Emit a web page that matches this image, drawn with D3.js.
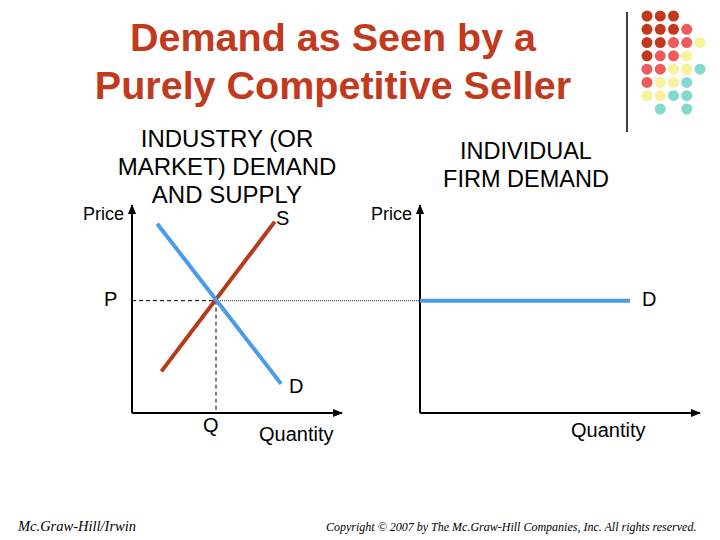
<!DOCTYPE html>
<html><head><meta charset="utf-8">
<script src="https://cdn.jsdelivr.net/npm/d3@7"></script>
<style>body{margin:0;background:#fff}svg{display:block;font-family:"Liberation Sans",Arial,sans-serif}</style>
</head><body><svg id="c" width="720" height="540"></svg>
<script>
const demandPts=[[12,91],[71,14]];
const supplyPts=[[14,20],[68,92]];
const equilibrium={q:40,p:54};
const firmDemand=[[0,54],[75,54]];
const dotRows=[["r","r","r"],["r","r","r","p"],["r","r","p","p","y"],["r","p","p","y"],["p","p","y","y","t"],["p","y","y","t"],["y","y","t","t"],["","t","","t"]];
const dotColors={r:"#C23A1E",p:"#EF5B5B",y:"#F7F29C",t:"#83D9CF"};

const svg=d3.select("#c");
svg.append("defs").append("marker").attr("id","ar").attr("viewBox","0 0 10 10").attr("refX",9).attr("refY",5)
 .attr("markerWidth",5).attr("markerHeight",5).attr("orient","auto")
 .append("path").attr("d","M0,1L10,5L0,9z").attr("fill","#000");

svg.append("text").attr("x",333).attr("y",51).attr("text-anchor","middle").attr("font-size",39.5).attr("font-weight","bold").attr("fill","#C23A1E").text("Demand as Seen by a");
svg.append("text").attr("x",333).attr("y",99).attr("text-anchor","middle").attr("font-size",39.5).attr("font-weight","bold").attr("fill","#C23A1E").text("Purely Competitive Seller");

svg.append("line").attr("x1",627).attr("x2",627).attr("y1",12).attr("y2",132).attr("stroke","#000").attr("stroke-width",1.5);
const dx=d3.scaleLinear().domain([0,4]).range([647,700]);
const dy=d3.scaleLinear().domain([0,7]).range([16,109]);
dotRows.forEach((row,i)=>row.forEach((c,j)=>{if(c)svg.append("circle").attr("cx",dx(j)).attr("cy",dy(i)).attr("r",5.5).attr("fill",dotColors[c]);}));

const x1=d3.scaleLinear().domain([0,100]).range([132,342]);
const y1=d3.scaleLinear().domain([0,100]).range([413,205]);
const x2=d3.scaleLinear().domain([0,100]).range([420,700]);
const ln=(sx,sy)=>d3.line().x(d=>sx(d[0])).y(d=>sy(d[1]));
function axes(sx){
 svg.append("line").attr("x1",sx(0)).attr("x2",sx(0)).attr("y1",y1(0)).attr("y2",y1(100)).attr("stroke","#000").attr("stroke-width",2).attr("marker-end","url(#ar)");
 svg.append("line").attr("x1",sx(0)).attr("x2",sx(100)).attr("y1",y1(0)).attr("y2",y1(0)).attr("stroke","#000").attr("stroke-width",2).attr("marker-end","url(#ar)");
}
axes(x1);axes(x2);
svg.append("line").attr("x1",x1(0)).attr("x2",x1(equilibrium.q)).attr("y1",y1(equilibrium.p)).attr("y2",y1(equilibrium.p)).attr("stroke","#000").attr("stroke-dasharray","4,3");
svg.append("line").attr("x1",x1(equilibrium.q)).attr("x2",x2(0)).attr("y1",y1(equilibrium.p)).attr("y2",y1(equilibrium.p)).attr("stroke","#000").attr("stroke-width",0.8).attr("stroke-dasharray","1,1");
svg.append("line").attr("x1",x1(equilibrium.q)).attr("x2",x1(equilibrium.q)).attr("y1",y1(equilibrium.p)).attr("y2",y1(0)).attr("stroke","#000").attr("stroke-dasharray","4,3");
svg.append("path").attr("d",ln(x1,y1)(supplyPts)).attr("stroke","#B83A1C").attr("stroke-width",4).attr("fill","none");
svg.append("path").attr("d",ln(x1,y1)(demandPts)).attr("stroke","#4A9BE8").attr("stroke-width",4).attr("fill","none");
svg.append("path").attr("d",ln(x2,y1)(firmDemand)).attr("stroke","#4A9BE8").attr("stroke-width",4).attr("fill","none");

const t=(x,y,s,a,fs,w)=>svg.append("text").attr("x",x).attr("y",y).attr("text-anchor",a||"start").attr("font-size",fs||20).attr("font-weight",w||"normal").text(s);
t(227,147,"INDUSTRY (OR","middle",24);t(227,175,"MARKET) DEMAND","middle",24);t(227,203,"AND SUPPLY","middle",24);
t(526,159,"INDIVIDUAL","middle",23.5);t(526,187,"FIRM DEMAND","middle",23.5);
t(124,220,"Price","end",18);t(412,220,"Price","end",18);
t(276,225,"S");t(104,306,"P");t(642,306,"D");t(289,393,"D");t(203,432,"Q");
t(259,441,"Quantity");t(571,437,"Quantity");
svg.append("text").attr("x",18).attr("y",531).attr("font-family","Liberation Serif").attr("font-style","italic").attr("font-size",14.5).text("Mc.Graw-Hill/Irwin");
svg.append("text").attr("x",326).attr("y",531).attr("font-family","Liberation Serif").attr("font-style","italic").attr("font-size",12).text("Copyright © 2007 by The Mc.Graw-Hill Companies, Inc. All rights reserved.");
</script></body></html>
